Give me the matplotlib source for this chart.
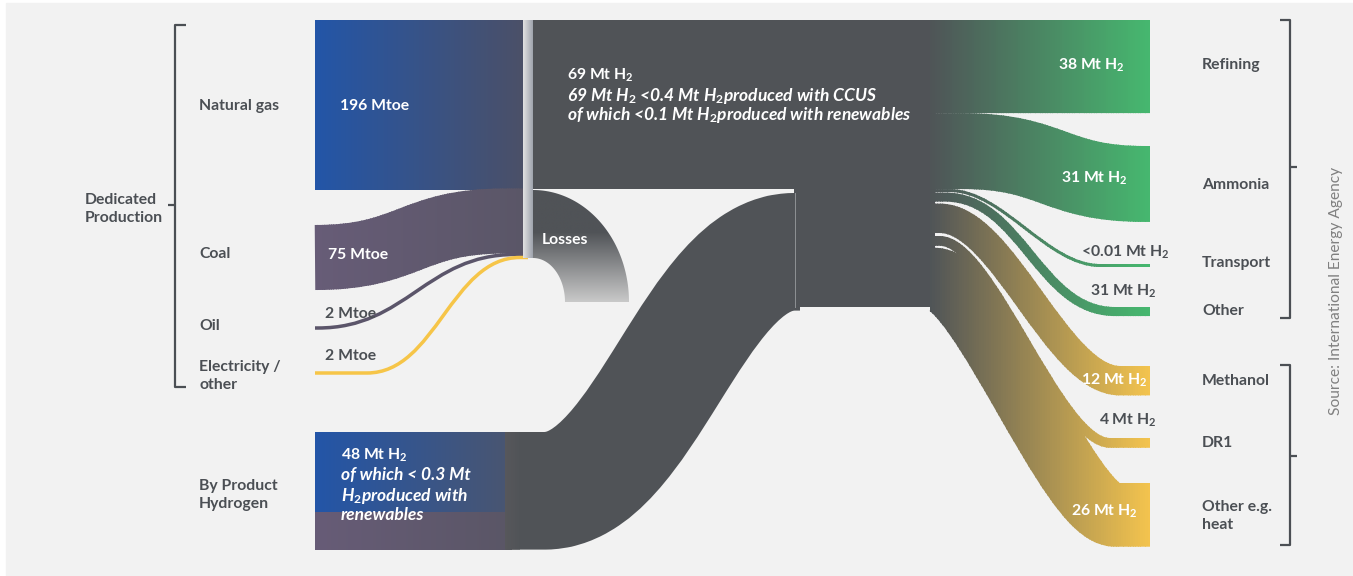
import numpy as np
import matplotlib.pyplot as plt
from matplotlib.patches import Rectangle, Polygon, PathPatch
from matplotlib.path import Path
from matplotlib.colors import to_rgb

plt.rcParams['font.family'] = ['Lato', 'DejaVu Sans']
plt.rcParams['mathtext.fontset'] = 'custom'
plt.rcParams['mathtext.rm'] = 'Lato:bold'
plt.rcParams['mathtext.it'] = 'Lato:bold:italic'
plt.rcParams['mathtext.bf'] = 'Lato:bold'
plt.rcParams['mathtext.default'] = 'rm'

# energy inputs to dedicated production (Mtoe)
src_names = ['Natural gas', 'Coal', 'Oil', 'Electricity /\nother']
src_mtoe = [196, 75, 2, 2]
src_labels = ['196 Mtoe', '75 Mtoe', '2 Mtoe', '2 Mtoe']

# hydrogen volumes (Mt H2)
dedicated_h2 = 69
byproduct_h2 = 48
use_names = ['Refining', 'Ammonia', 'Transport', 'Other', 'Methanol', 'DR1', 'Other e.g.\nheat']
use_h2 = [38, 31, 0.01, 3.7, 12, 4, 26]
use_labels = ['38 Mt H$_2$', '31 Mt H$_2$', '<0.01 Mt H$_2$', '31 Mt H$_2$',
              '12 Mt H$_2$', '4 Mt H$_2$', '26 Mt H$_2$']
use_group = ['green', 'green', 'green', 'green', 'gold', 'gold', 'gold']

W, H = 1353, 576
PX_MTOE = 170 / 196      # px per Mtoe
PX_H2 = 2.45             # px per Mt H2
MIN_W = 3.5
DARK = '#505357'
TXT = '#4b4f54'

fig = plt.figure(figsize=(W / 100, H / 100), dpi=100)
fig.patch.set_facecolor('white')
ax = fig.add_axes([0, 0, 1, 1])
ax.set_xlim(0, W)
ax.set_ylim(H, 0)
ax.axis('off')

ax.add_patch(Rectangle((6, 3), W - 6, H - 3, color='#f2f2f2', zorder=0))


def hgrad(x0, x1, y0, y1, c0, c1, z=2, clip=None):
    g = np.linspace(0, 1, 256)[None, :, None]
    img = np.array(to_rgb(c0))[None, None, :] * (1 - g) + np.array(to_rgb(c1))[None, None, :] * g
    im = ax.imshow(img, extent=(x0, x1, y1, y0), origin='upper', aspect='auto',
                   interpolation='bilinear', zorder=z)
    if clip is not None:
        im.set_clip_path(clip)
    return im


def band(xs, ys, xe, ye, k, lead0=None, lead1=None):
    dx = xe - xs
    verts = [(xs if lead0 is None else lead0, ys), (xs, ys),
             (xs + k * dx, ys), (xe - k * dx, ye), (xe, ye),
             (xe if lead1 is None else lead1, ye)]
    codes = [Path.MOVETO, Path.LINETO, Path.CURVE4, Path.CURVE4, Path.CURVE4, Path.LINETO]
    return Path(verts, codes)


def stroke(path, w, c0, c1=None, xa=0, xb=W, z=3, n=90):
    if c1 is None:
        ax.add_patch(PathPatch(path, fill=False, lw=w * 0.72, edgecolor=c0,
                               capstyle='butt', joinstyle='round', zorder=z))
        return
    a, b = np.array(to_rgb(c0)), np.array(to_rgb(c1))
    edges = np.linspace(xa, xb, n + 1)
    for i in range(n):
        lo = 0 if i == 0 else edges[i]
        hi = W if i == n - 1 else edges[i + 1] + 0.8
        t = (i + 0.5) / n
        p = PathPatch(path, fill=False, lw=w * 0.72, edgecolor=a + (b - a) * t,
                      capstyle='butt', joinstyle='round', zorder=z)
        ax.add_patch(p)
        p.set_clip_path(Rectangle((lo, 0), hi - lo, H, transform=ax.transData))


# ---- left: energy inputs ----
gas_h = src_mtoe[0] * PX_MTOE
hgrad(315, 523, 20, 20 + gas_h, '#2356a8', '#4b5068')

coal_w = src_mtoe[1] * PX_MTOE
stroke(band(315, 257.5, 505, 221, 0.5, lead1=528), coal_w, '#675c77', '#5a5667', 315, 523)
oil_w = max(src_mtoe[2] * PX_MTOE, MIN_W)
stroke(band(318, 328, 515, 254.5, 0.45, lead0=315, lead1=528), oil_w, '#5b556a')
el_w = max(src_mtoe[3] * PX_MTOE, MIN_W)
stroke(band(367, 373, 520, 257.5, 0.45, lead0=315, lead1=528), el_w, '#f6c548')

# losses
t = np.linspace(np.pi / 2, 0, 60)
outer = np.c_[533 + 96 * np.cos(t), 302 - 112 * np.sin(t)]
inner = np.c_[533 + 32 * np.cos(t[::-1]), 302 - 44 * np.sin(t[::-1])]
loss = Polygon(np.r_[outer, inner], closed=True, transform=ax.transData, facecolor='none',
               edgecolor='none')
ax.add_patch(loss)
g = np.clip((np.linspace(190, 302, 200) - 232) / 70, 0, 1)[:, None, None]
limg = np.array(to_rgb(DARK)) * (1 - g) + np.array(to_rgb('#c9c9c9')) * g
limg = np.repeat(limg, 4, axis=1)
im = ax.imshow(limg, extent=(533, 630, 302, 190), origin='upper', aspect='auto',
               interpolation='bilinear', zorder=2)
im.set_clip_path(loss)

# dedicated H2 band and central node
ded_h = dedicated_h2 * PX_H2
ax.add_patch(Rectangle((530, 20), 270, ded_h, color=DARK, lw=0, zorder=2))
node_h = (dedicated_h2 + byproduct_h2) * PX_H2
ax.add_patch(Rectangle((794, 20), 141, node_h, color=DARK, lw=0, zorder=4))
ax.plot([794.5, 794.5], [193, 20 + node_h], color='#8e9194', lw=0.7, zorder=5)

# separator bar
hgrad(523, 533, 20, 258, '#e2e2e2', '#9ea3ad', z=6)

# by-product hydrogen
bp_h = byproduct_h2 * PX_H2
hgrad(315, 512, 432, 512, '#2356a8', '#4a5570')
hgrad(315, 512, 512, 432 + bp_h, '#675c77', '#5a5666')
stroke(band(545, 432 + bp_h / 2, 794, 193 + bp_h / 2, 0.4, lead0=505, lead1=800),
       bp_h, '#57575b', DARK, 505, 520, z=3, n=20)

# ---- right: uses ----
tops = [20, 146, 264, 307, 366, 438, 483]
gaps = [0, 0, 0, 0.5, 2, 3, 2]
spans = [(940, 1145, 0.5), (962, 1145, 0.5), (950, 1100, 0.35), (945, 1115, 0.45),
         (940, 1120, 0.35), (940, 1110, 0.3), (935, 1115, 0.25)]
grad_end = {'green': '#46b86f', 'gold': '#f4c44e'}
y = 20
for v, grp, top, gap, (xs, xe, k) in zip(use_h2, use_group, tops, gaps, spans):
    y += gap
    w = max(v * PX_H2, MIN_W) if v >= 1 else 3
    stroke(band(xs, y + w / 2, xe, top + w / 2, k, lead0=930, lead1=1150),
           w, '#4f5457', grad_end[grp], 930, 1150, z=5)
    y += w

# ---- text ----
bold = dict(fontweight='bold', fontsize=11.3)
ital = dict(fontweight='bold', fontsize=12.5, style='italic')
ax.text(340, 106, src_labels[0], color='white', va='center', **bold, zorder=8)
ax.text(328, 255, src_labels[1], color='white', va='center', **bold, zorder=8)
ax.text(325, 314, src_labels[2], color=TXT, va='center', **bold, zorder=8)
ax.text(325, 356, src_labels[3], color=TXT, va='center', **bold, zorder=8)
ax.text(542, 240, 'Losses', color='white', va='center', **bold, zorder=8)

ax.text(567, 75, '%d Mt H$_2$' % dedicated_h2, color='white', va='center', **bold, zorder=8)
ax.text(567, 96, '%d Mt H$_\\mathit{2}$ <0.4 Mt H$_\\mathit{2}$produced with CCUS' % dedicated_h2,
        color='white', va='center', **ital, zorder=8)
ax.text(567, 115, 'of which <0.1 Mt H$_\\mathit{2}$produced with renewables',
        color='white', va='center', **ital, zorder=8)

ax.text(341, 455, '%d Mt H$_2$' % byproduct_h2, color='white', va='center', **bold, zorder=8)
for yy, s in zip([475, 496, 515], ['of which < 0.3 Mt', 'H$_\\mathit{2}$produced with', 'renewables']):
    ax.text(341, yy, s, color='white', va='center', **ital, zorder=8)

lab_x = [1125, 1128, 1170, 1157, 1148, 1157, 1138]
lab_y = [65, 178, 252, 291, 380, 420, 511]
lab_c = ['white', 'white', TXT, TXT, 'white', TXT, 'white']
for s, xx, yy, c in zip(use_labels, lab_x, lab_y, lab_c):
    ax.text(xx, yy, s, color=c, ha='right', va='center', **bold, zorder=8)

cat = dict(fontweight='bold', fontsize=11.3, color=TXT, va='center', linespacing=1.3)
ax.text(85, 209, 'Dedicated\nProduction', **cat)
for s, yy in zip(src_names, [106, 254, 326, 376]):
    ax.text(199, yy, s, **cat)
ax.text(199, 495, 'By Product\nHydrogen', **cat)
for s, yy in zip(use_names, [65, 185, 263, 311, 381, 443, 516]):
    ax.text(1202, yy, s, **cat)

ax.text(1336, 291, 'Source: International Energy Agency', rotation=90, fontsize=11.2,
        fontweight='normal', color='#808080', ha='center', va='center')

# brackets
bk = dict(color=TXT, lw=1.6, solid_capstyle='butt', zorder=8)
ax.plot([186, 175, 175, 186], [25, 25, 387, 387], **bk)
ax.plot([168, 175], [205, 205], **bk)
ax.plot([1280, 1290, 1290, 1280], [20, 20, 318, 318], **bk)
ax.plot([1290, 1297], [167, 167], **bk)
ax.plot([1280, 1290, 1290, 1280], [365, 365, 545, 545], **bk)
ax.plot([1290, 1297], [456, 456], **bk)

fig.savefig('out.png', dpi=100)
